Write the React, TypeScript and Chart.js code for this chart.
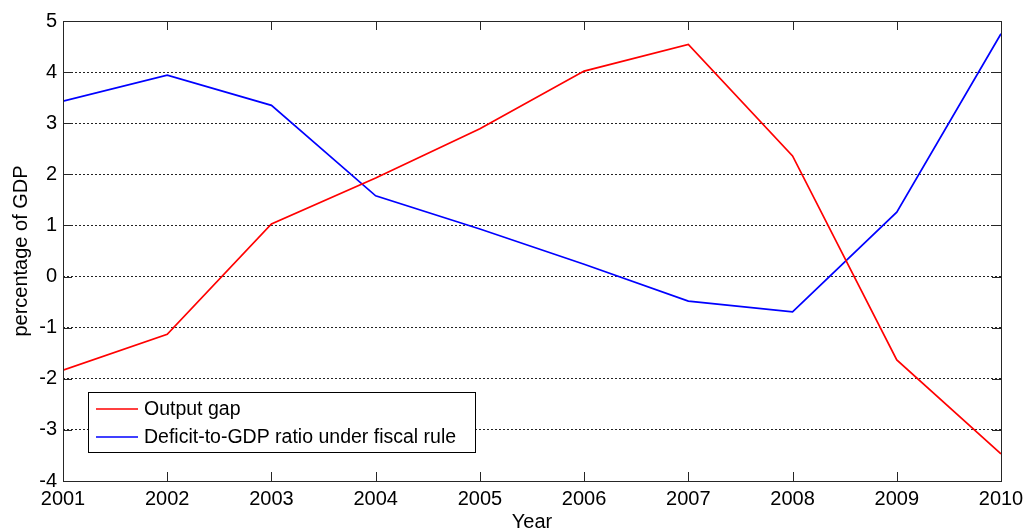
import React, { useEffect, useRef } from "react";
import { Chart, registerables } from "chart.js";

Chart.register(...registerables);

const years = [2001, 2002, 2003, 2004, 2005, 2006, 2007, 2008, 2009, 2010];
const outputGap = [-1.83, -1.13, 1.03, 1.93, 2.89, 4.02, 4.54, 2.36, -1.63, -3.47];
const deficitRatio = [3.43, 3.94, 3.35, 1.58, 0.93, 0.24, -0.48, -0.69, 1.26, 4.75];
const seriesLabels = ["Output gap", "Deficit-to-GDP ratio under fiscal rule"];
const seriesColors = ["#ff0000", "#0000ff"];
const yTicks = [-4, -3, -2, -1, 0, 1, 2, 3, 4, 5];
const xTitle = "Year";
const yTitle = "percentage of GDP";

const FONT = "'Liberation Sans', Arial, Helvetica, sans-serif";

const framePlugin = {
  id: "matlabFrame",
  afterDraw(chart: any) {
    const { ctx, chartArea } = chart;
    const { left, right, top, bottom } = chartArea;
    const xs = chart.scales.x;
    const ys = chart.scales.y;
    ctx.save();
    ctx.strokeStyle = "#262626";
    ctx.lineWidth = 1;
    ctx.setLineDash([]);
    ctx.strokeRect(Math.round(left) + 0.5, Math.round(top) + 0.5, Math.round(right - left), Math.round(bottom - top));
    const tl = 9;
    ctx.beginPath();
    years.forEach((yr) => {
      const px = Math.round(xs.getPixelForValue(yr)) + 0.5;
      ctx.moveTo(px, bottom);
      ctx.lineTo(px, bottom - tl);
      ctx.moveTo(px, top);
      ctx.lineTo(px, top + tl);
    });
    yTicks.forEach((v) => {
      const py = Math.round(ys.getPixelForValue(v)) + 0.5;
      ctx.moveTo(left, py);
      ctx.lineTo(left + tl, py);
      ctx.moveTo(right, py);
      ctx.lineTo(right - tl, py);
    });
    ctx.stroke();

    ctx.fillStyle = "#000";
    ctx.font = `20px ${FONT}`;
    ctx.textAlign = "center";
    ctx.textBaseline = "alphabetic";
    ctx.fillText(xTitle, (left + right) / 2, 528);
    ctx.save();
    ctx.translate(27, (top + bottom) / 2);
    ctx.rotate(-Math.PI / 2);
    ctx.fillText(yTitle, 0, 0);
    ctx.restore();

    const lx = 88, ly = 392, lw = 387, lh = 60;
    ctx.fillStyle = "#fff";
    ctx.fillRect(lx, ly, lw, lh);
    ctx.strokeStyle = "#000";
    ctx.lineWidth = 1;
    ctx.strokeRect(lx + 0.5, ly + 0.5, lw, lh);
    ctx.font = `19.5px ${FONT}`;
    ctx.textAlign = "left";
    ctx.textBaseline = "middle";
    const rows = [409, 437];
    chart.data.datasets.forEach((ds: any, i: number) => {
      ctx.strokeStyle = ds.borderColor;
      ctx.lineWidth = 1.7;
      ctx.beginPath();
      ctx.moveTo(96, rows[i]);
      ctx.lineTo(138, rows[i]);
      ctx.stroke();
      ctx.fillStyle = "#000";
      ctx.fillText(ds.label, 144, rows[i] + 1);
    });
    ctx.restore();
  },
};

export default function App() {
  const ref = useRef<HTMLCanvasElement>(null);
  useEffect(() => {
    if (!ref.current) return;
    const chart = new Chart(ref.current, {
      type: "line",
      data: {
        datasets: [
          {
            label: seriesLabels[0],
            data: years.map((x, i) => ({ x, y: outputGap[i] })),
            borderColor: seriesColors[0],
            borderWidth: 1.7,
            pointRadius: 0,
            tension: 0,
          },
          {
            label: seriesLabels[1],
            data: years.map((x, i) => ({ x, y: deficitRatio[i] })),
            borderColor: seriesColors[1],
            borderWidth: 1.7,
            pointRadius: 0,
            tension: 0,
          },
        ],
      },
      plugins: [framePlugin],
      options: {
        animation: false,
        responsive: false,
        devicePixelRatio: 1,
        layout: { padding: { left: 0, right: 29, top: 21, bottom: 0 } },
        plugins: { legend: { display: false }, tooltip: { enabled: false } },
        scales: {
          x: {
            type: "linear",
            min: 2001,
            max: 2010,
            afterBuildTicks: (s: any) => {
              s.ticks = years.map((v) => ({ value: v }));
            },
            afterFit: (s: any) => {
              s.height = 48;
            },
            grid: { display: false, drawTicks: false },
            border: { display: false },
            ticks: {
              color: "#000",
              font: { family: FONT, size: 20 },
              padding: 6,
              maxRotation: 0,
              autoSkip: false,
              callback: (v: any) => String(v),
            },
          },
          y: {
            type: "linear",
            min: -4,
            max: 5,
            afterBuildTicks: (s: any) => {
              s.ticks = yTicks.map((v) => ({ value: v }));
            },
            afterFit: (s: any) => {
              s.width = 63;
            },
            grid: {
              color: "#222",
              lineWidth: 1,
              drawTicks: false,
            },
            border: { display: false, dash: [2, 2] },
            ticks: {
              color: "#000",
              font: { family: FONT, size: 20 },
              padding: 6,
              autoSkip: false,
              callback: (v: any) => String(v),
            },
          },
        },
      },
    });
    return () => chart.destroy();
  }, []);
  return (
    <div style={{ position: "fixed", left: 0, top: 0, width: 1030, height: 529, background: "#fff" }}>
      <canvas ref={ref} width={1030} height={529} style={{ width: 1030, height: 529 }} />
    </div>
  );
}
